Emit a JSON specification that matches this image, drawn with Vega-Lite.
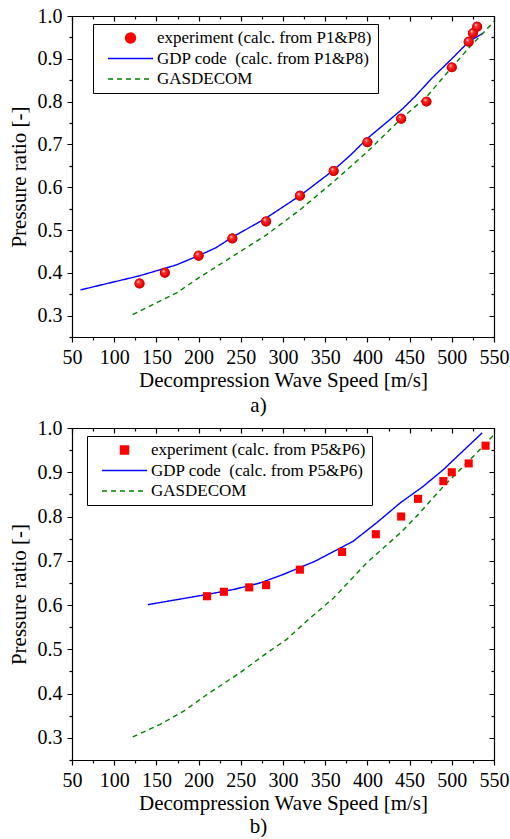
{
 "$schema": "https://vega.github.io/schema/vega-lite/v6.json",
 "padding": {"left": 8, "top": 6, "right": 10, "bottom": 0},
 "spacing": 2,
 "config": {
  "font": "Liberation Serif",
  "view": {"stroke": null},
  "axis": {"labelFont": "Liberation Serif", "labelFontSize": 20, "labelColor": "black", "titleFont": "Liberation Serif", "titleFontSize": 21, "titleFontWeight": "normal", "titleColor": "black", "domainColor": "black", "tickColor": "black", "grid": false, "domainWidth": 1.2, "tickWidth": 1.2},
  "legend": {"orient": "none", "title": null, "strokeColor": "black", "fillColor": "white", "padding": 6, "symbolSize": 2025, "clipHeight": 16, "rowPadding": 3.5, "labelFont": "Liberation Serif", "labelFontSize": 17, "labelColor": "black", "labelLimit": 400, "labelOffset": 3, "symbolOffset": 8, "symbolStrokeWidth": 1.4},
  "title": {"font": "Liberation Serif", "fontSize": 21, "fontWeight": "normal", "color": "black"}
 },
 "resolve": {"scale": {"color": "independent", "strokeDash": "independent", "shape": "independent"}},
 "vconcat": [
  {
   "width": 422, "height": 321,
   "title": {"text": "a)", "orient": "bottom", "anchor": "middle", "frame": "bounds", "offset": 5},
   "data": {"values": [
    {"series": "experiment (calc. from P1&P8)", "x": 130, "y": 0.375},
    {"series": "experiment (calc. from P1&P8)", "x": 160, "y": 0.40},
    {"series": "experiment (calc. from P1&P8)", "x": 200, "y": 0.44},
    {"series": "experiment (calc. from P1&P8)", "x": 240, "y": 0.48},
    {"series": "experiment (calc. from P1&P8)", "x": 280, "y": 0.52},
    {"series": "experiment (calc. from P1&P8)", "x": 320, "y": 0.58},
    {"series": "experiment (calc. from P1&P8)", "x": 360, "y": 0.638},
    {"series": "experiment (calc. from P1&P8)", "x": 400, "y": 0.705},
    {"series": "experiment (calc. from P1&P8)", "x": 440, "y": 0.76},
    {"series": "experiment (calc. from P1&P8)", "x": 470, "y": 0.80},
    {"series": "experiment (calc. from P1&P8)", "x": 500, "y": 0.88},
    {"series": "experiment (calc. from P1&P8)", "x": 520, "y": 0.94},
    {"series": "experiment (calc. from P1&P8)", "x": 525, "y": 0.96},
    {"series": "experiment (calc. from P1&P8)", "x": 530, "y": 0.975},
    {"series": "GDP code\u00a0 (calc. from P1&P8)", "x": 60, "y": 0.36},
    {"series": "GDP code\u00a0 (calc. from P1&P8)", "x": 130, "y": 0.393},
    {"series": "GDP code\u00a0 (calc. from P1&P8)", "x": 173, "y": 0.418},
    {"series": "GDP code\u00a0 (calc. from P1&P8)", "x": 200, "y": 0.44},
    {"series": "GDP code\u00a0 (calc. from P1&P8)", "x": 220, "y": 0.458},
    {"series": "GDP code\u00a0 (calc. from P1&P8)", "x": 240, "y": 0.483},
    {"series": "GDP code\u00a0 (calc. from P1&P8)", "x": 280, "y": 0.528},
    {"series": "GDP code\u00a0 (calc. from P1&P8)", "x": 320, "y": 0.58},
    {"series": "GDP code\u00a0 (calc. from P1&P8)", "x": 360, "y": 0.64},
    {"series": "GDP code\u00a0 (calc. from P1&P8)", "x": 380, "y": 0.675},
    {"series": "GDP code\u00a0 (calc. from P1&P8)", "x": 400, "y": 0.714},
    {"series": "GDP code\u00a0 (calc. from P1&P8)", "x": 440, "y": 0.78},
    {"series": "GDP code\u00a0 (calc. from P1&P8)", "x": 456, "y": 0.811},
    {"series": "GDP code\u00a0 (calc. from P1&P8)", "x": 478, "y": 0.858},
    {"series": "GDP code\u00a0 (calc. from P1&P8)", "x": 500, "y": 0.90},
    {"series": "GDP code\u00a0 (calc. from P1&P8)", "x": 520, "y": 0.94},
    {"series": "GDP code\u00a0 (calc. from P1&P8)", "x": 537, "y": 0.96},
    {"series": "GASDECOM", "x": 122, "y": 0.302},
    {"series": "GASDECOM", "x": 150, "y": 0.33},
    {"series": "GASDECOM", "x": 174, "y": 0.353},
    {"series": "GASDECOM", "x": 200, "y": 0.388},
    {"series": "GASDECOM", "x": 240, "y": 0.438},
    {"series": "GASDECOM", "x": 280, "y": 0.488},
    {"series": "GASDECOM", "x": 320, "y": 0.547},
    {"series": "GASDECOM", "x": 360, "y": 0.613},
    {"series": "GASDECOM", "x": 400, "y": 0.683},
    {"series": "GASDECOM", "x": 440, "y": 0.76},
    {"series": "GASDECOM", "x": 470, "y": 0.811},
    {"series": "GASDECOM", "x": 500, "y": 0.88},
    {"series": "GASDECOM", "x": 520, "y": 0.925},
    {"series": "GASDECOM", "x": 550, "y": 0.987}
   ]},
   "resolve": {"axis": {"x": "independent", "y": "independent"}},
   "layer": [
    {
     "transform": [{"filter": "indexof(datum.series, 'experiment') < 0"}],
     "mark": {"type": "line", "strokeWidth": 1.4},
     "encoding": {
      "x": {"field": "x", "type": "quantitative", "scale": {"domain": [50, 550], "nice": false, "zero": false},
            "axis": {"orient": "top", "title": null, "labels": false, "values": [50,75,100,125,150,175,200,225,250,275,300,325,350,375,400,425,450,475,500,525,550], "tickSize": -5, "tickDash": {"condition": {"test": "datum.value % 50 === 0", "value": [1, 0]}, "value": [3, 20]}}},
      "y": {"field": "y", "type": "quantitative", "scale": {"domain": [0.25, 1.0], "nice": false, "zero": false},
            "axis": {"orient": "right", "title": null, "labels": false, "values": [0.25,0.3,0.35,0.4,0.45,0.5,0.55,0.6,0.65,0.7,0.75,0.8,0.85,0.9,0.95,1.0], "tickSize": -5, "tickDash": {"condition": {"test": "abs(datum.value*10 - round(datum.value*10)) < 0.001", "value": [1, 0]}, "value": [3, 20]}}},
      "color": {"field": "series", "type": "nominal",
                "scale": {"domain": ["experiment (calc. from P1&P8)", "GDP code\u00a0 (calc. from P1&P8)", "GASDECOM"], "range": ["#ff0000", "#0000ff", "#008000"]},
                "legend": {"legendX": 21, "legendY": 8, "labelFont": "Liberation Serif", "labelFontSize": 17, "labelLimit": 400}},
      "strokeDash": {"field": "series", "type": "nominal", "scale": {"domain": ["experiment (calc. from P1&P8)", "GDP code\u00a0 (calc. from P1&P8)", "GASDECOM"], "range": [[1, 0], [1, 0], [5, 4]]}, "legend": {"legendX": 21, "legendY": 8, "labelFont": "Liberation Serif", "labelFontSize": 17, "labelLimit": 400}}
     }
    },
    {
     "transform": [{"filter": "indexof(datum.series, 'experiment') >= 0"}],
     "mark": {"type": "point", "filled": true, "size": 2025, "opacity": 1},
     "encoding": {
      "x": {"field": "x", "type": "quantitative", "scale": {"domain": [50, 550], "nice": false, "zero": false},
            "axis": {"orient": "bottom", "title": "Decompression Wave Speed [m/s]", "titlePadding": 2, "labelPadding": 5, "values": [50,75,100,125,150,175,200,225,250,275,300,325,350,375,400,425,450,475,500,525,550], "labelExpr": "datum.value % 50 === 0 ? datum.label : ''", "labelFlush": false, "labelOverlap": false, "tickSize": 5, "tickDash": {"condition": {"test": "datum.value % 50 === 0", "value": [1, 0]}, "value": [3, 20]}}},
      "y": {"field": "y", "type": "quantitative", "scale": {"domain": [0.25, 1.0], "nice": false, "zero": false},
            "axis": {"orient": "left", "title": "Pressure ratio [-]", "titlePadding": 8, "labelPadding": 5, "format": ".1f", "values": [0.25,0.3,0.35,0.4,0.45,0.5,0.55,0.6,0.65,0.7,0.75,0.8,0.85,0.9,0.95,1.0], "labelExpr": "abs(datum.value*10 - round(datum.value*10)) < 0.001 ? datum.label : ''", "labelFlush": false, "labelOverlap": false, "tickSize": 5, "tickDash": {"condition": {"test": "abs(datum.value*10 - round(datum.value*10)) < 0.001", "value": [1, 0]}, "value": [3, 20]}}},
      "color": {"field": "series", "type": "nominal",
                "scale": {"domain": ["experiment (calc. from P1&P8)", "GDP code\u00a0 (calc. from P1&P8)", "GASDECOM"], "range": ["#ff0000", "#0000ff", "#008000"]},
                "legend": {"legendX": 21, "legendY": 8, "labelFont": "Liberation Serif", "labelFontSize": 17, "labelLimit": 400}},
      "shape": {"field": "series", "type": "nominal",
                "scale": {"domain": ["experiment (calc. from P1&P8)", "GDP code\u00a0 (calc. from P1&P8)", "GASDECOM"], "range": ["M-0.22,0A0.22,0.22,0,1,1,0.22,0A0.22,0.22,0,1,1,-0.22,0Z", "stroke", "stroke"]},
                "legend": {"legendX": 21, "legendY": 8, "labelFont": "Liberation Serif", "labelFontSize": 17, "labelLimit": 400}}
     }
    },
    {
     "transform": [{"filter": "indexof(datum.series, 'experiment') >= 0"}],
     "mark": {"type": "point", "filled": true, "size": 2025, "opacity": 1, "strokeWidth": 0,
              "shape": "M-0.22,0A0.22,0.22,0,1,1,0.22,0A0.22,0.22,0,1,1,-0.22,0Z",
              "fill": {"gradient": "radial", "x1": 0.35, "y1": 0.3, "r1": 0, "x2": 0.5, "y2": 0.5, "r2": 0.55, "stops": [{"offset": 0, "color": "#ffffff"}, {"offset": 0.3, "color": "#ff3030"}, {"offset": 0.8, "color": "#e00000"}, {"offset": 1, "color": "#b00000"}]}},
     "encoding": {
      "x": {"field": "x", "type": "quantitative", "scale": {"domain": [50, 550], "nice": false, "zero": false}, "axis": null},
      "y": {"field": "y", "type": "quantitative", "scale": {"domain": [0.25, 1.0], "nice": false, "zero": false}, "axis": null}
     }
    }
   ]
  },
  {
   "width": 422, "height": 332,
   "title": {"text": "b)", "orient": "bottom", "anchor": "middle", "frame": "bounds", "offset": 3},
   "data": {"values": [
    {"series": "experiment (calc. from P5&P6)", "x": 210, "y": 0.62},
    {"series": "experiment (calc. from P5&P6)", "x": 230, "y": 0.63},
    {"series": "experiment (calc. from P5&P6)", "x": 260, "y": 0.64},
    {"series": "experiment (calc. from P5&P6)", "x": 280, "y": 0.645},
    {"series": "experiment (calc. from P5&P6)", "x": 320, "y": 0.68},
    {"series": "experiment (calc. from P5&P6)", "x": 370, "y": 0.72},
    {"series": "experiment (calc. from P5&P6)", "x": 410, "y": 0.76},
    {"series": "experiment (calc. from P5&P6)", "x": 440, "y": 0.80},
    {"series": "experiment (calc. from P5&P6)", "x": 460, "y": 0.84},
    {"series": "experiment (calc. from P5&P6)", "x": 490, "y": 0.88},
    {"series": "experiment (calc. from P5&P6)", "x": 500, "y": 0.90},
    {"series": "experiment (calc. from P5&P6)", "x": 520, "y": 0.92},
    {"series": "experiment (calc. from P5&P6)", "x": 540, "y": 0.96},
    {"series": "GDP code\u00a0 (calc. from P5&P6)", "x": 140, "y": 0.601},
    {"series": "GDP code\u00a0 (calc. from P5&P6)", "x": 210, "y": 0.624},
    {"series": "GDP code\u00a0 (calc. from P5&P6)", "x": 241, "y": 0.635},
    {"series": "GDP code\u00a0 (calc. from P5&P6)", "x": 273, "y": 0.65},
    {"series": "GDP code\u00a0 (calc. from P5&P6)", "x": 300, "y": 0.669},
    {"series": "GDP code\u00a0 (calc. from P5&P6)", "x": 338, "y": 0.699},
    {"series": "GDP code\u00a0 (calc. from P5&P6)", "x": 383, "y": 0.744},
    {"series": "GDP code\u00a0 (calc. from P5&P6)", "x": 411, "y": 0.786},
    {"series": "GDP code\u00a0 (calc. from P5&P6)", "x": 439, "y": 0.831},
    {"series": "GDP code\u00a0 (calc. from P5&P6)", "x": 466, "y": 0.868},
    {"series": "GDP code\u00a0 (calc. from P5&P6)", "x": 490, "y": 0.906},
    {"series": "GDP code\u00a0 (calc. from P5&P6)", "x": 536, "y": 0.989},
    {"series": "GASDECOM", "x": 122, "y": 0.302},
    {"series": "GASDECOM", "x": 154, "y": 0.33},
    {"series": "GASDECOM", "x": 182, "y": 0.36},
    {"series": "GASDECOM", "x": 210, "y": 0.398},
    {"series": "GASDECOM", "x": 249, "y": 0.447},
    {"series": "GASDECOM", "x": 281, "y": 0.492},
    {"series": "GASDECOM", "x": 304, "y": 0.522},
    {"series": "GASDECOM", "x": 328, "y": 0.564},
    {"series": "GASDECOM", "x": 360, "y": 0.616},
    {"series": "GASDECOM", "x": 399, "y": 0.695},
    {"series": "GASDECOM", "x": 439, "y": 0.763},
    {"series": "GASDECOM", "x": 458, "y": 0.80},
    {"series": "GASDECOM", "x": 490, "y": 0.868},
    {"series": "GASDECOM", "x": 518, "y": 0.921},
    {"series": "GASDECOM", "x": 550, "y": 0.985}
   ]},
   "resolve": {"axis": {"x": "independent", "y": "independent"}},
   "layer": [
    {
     "transform": [{"filter": "indexof(datum.series, 'experiment') < 0"}],
     "mark": {"type": "line", "strokeWidth": 1.4},
     "encoding": {
      "x": {"field": "x", "type": "quantitative", "scale": {"domain": [50, 550], "nice": false, "zero": false},
            "axis": {"orient": "top", "title": null, "labels": false, "values": [50,75,100,125,150,175,200,225,250,275,300,325,350,375,400,425,450,475,500,525,550], "tickSize": -5, "tickDash": {"condition": {"test": "datum.value % 50 === 0", "value": [1, 0]}, "value": [3, 20]}}},
      "y": {"field": "y", "type": "quantitative", "scale": {"domain": [0.25, 1.0], "nice": false, "zero": false},
            "axis": {"orient": "right", "title": null, "labels": false, "values": [0.25,0.3,0.35,0.4,0.45,0.5,0.55,0.6,0.65,0.7,0.75,0.8,0.85,0.9,0.95,1.0], "tickSize": -5, "tickDash": {"condition": {"test": "abs(datum.value*10 - round(datum.value*10)) < 0.001", "value": [1, 0]}, "value": [3, 20]}}},
      "color": {"field": "series", "type": "nominal",
                "scale": {"domain": ["experiment (calc. from P5&P6)", "GDP code\u00a0 (calc. from P5&P6)", "GASDECOM"], "range": ["#ff0000", "#0000ff", "#008000"]},
                "legend": {"legendX": 15, "legendY": 8, "labelFont": "Liberation Serif", "labelFontSize": 17, "labelLimit": 400}},
      "strokeDash": {"field": "series", "type": "nominal", "scale": {"domain": ["experiment (calc. from P5&P6)", "GDP code\u00a0 (calc. from P5&P6)", "GASDECOM"], "range": [[1, 0], [1, 0], [5, 4]]}, "legend": {"legendX": 15, "legendY": 8, "labelFont": "Liberation Serif", "labelFontSize": 17, "labelLimit": 400}}
     }
    },
    {
     "transform": [{"filter": "indexof(datum.series, 'experiment') >= 0"}],
     "mark": {"type": "point", "filled": true, "size": 2025, "opacity": 1},
     "encoding": {
      "x": {"field": "x", "type": "quantitative", "scale": {"domain": [50, 550], "nice": false, "zero": false},
            "axis": {"orient": "bottom", "title": "Decompression Wave Speed [m/s]", "titlePadding": 2, "labelPadding": 5, "values": [50,75,100,125,150,175,200,225,250,275,300,325,350,375,400,425,450,475,500,525,550], "labelExpr": "datum.value % 50 === 0 ? datum.label : ''", "labelFlush": false, "labelOverlap": false, "tickSize": 5, "tickDash": {"condition": {"test": "datum.value % 50 === 0", "value": [1, 0]}, "value": [3, 20]}}},
      "y": {"field": "y", "type": "quantitative", "scale": {"domain": [0.25, 1.0], "nice": false, "zero": false},
            "axis": {"orient": "left", "title": "Pressure ratio [-]", "titlePadding": 8, "labelPadding": 5, "format": ".1f", "values": [0.25,0.3,0.35,0.4,0.45,0.5,0.55,0.6,0.65,0.7,0.75,0.8,0.85,0.9,0.95,1.0], "labelExpr": "abs(datum.value*10 - round(datum.value*10)) < 0.001 ? datum.label : ''", "labelFlush": false, "labelOverlap": false, "tickSize": 5, "tickDash": {"condition": {"test": "abs(datum.value*10 - round(datum.value*10)) < 0.001", "value": [1, 0]}, "value": [3, 20]}}},
      "color": {"field": "series", "type": "nominal",
                "scale": {"domain": ["experiment (calc. from P5&P6)", "GDP code\u00a0 (calc. from P5&P6)", "GASDECOM"], "range": ["#ff0000", "#0000ff", "#008000"]},
                "legend": {"legendX": 15, "legendY": 8, "labelFont": "Liberation Serif", "labelFontSize": 17, "labelLimit": 400}},
      "shape": {"field": "series", "type": "nominal",
                "scale": {"domain": ["experiment (calc. from P5&P6)", "GDP code\u00a0 (calc. from P5&P6)", "GASDECOM"], "range": ["M-0.18,-0.18H0.18V0.18H-0.18Z", "stroke", "stroke"]},
                "legend": {"legendX": 15, "legendY": 8, "labelFont": "Liberation Serif", "labelFontSize": 17, "labelLimit": 400}}
     }
    }
   ]
  }
 ]
}
